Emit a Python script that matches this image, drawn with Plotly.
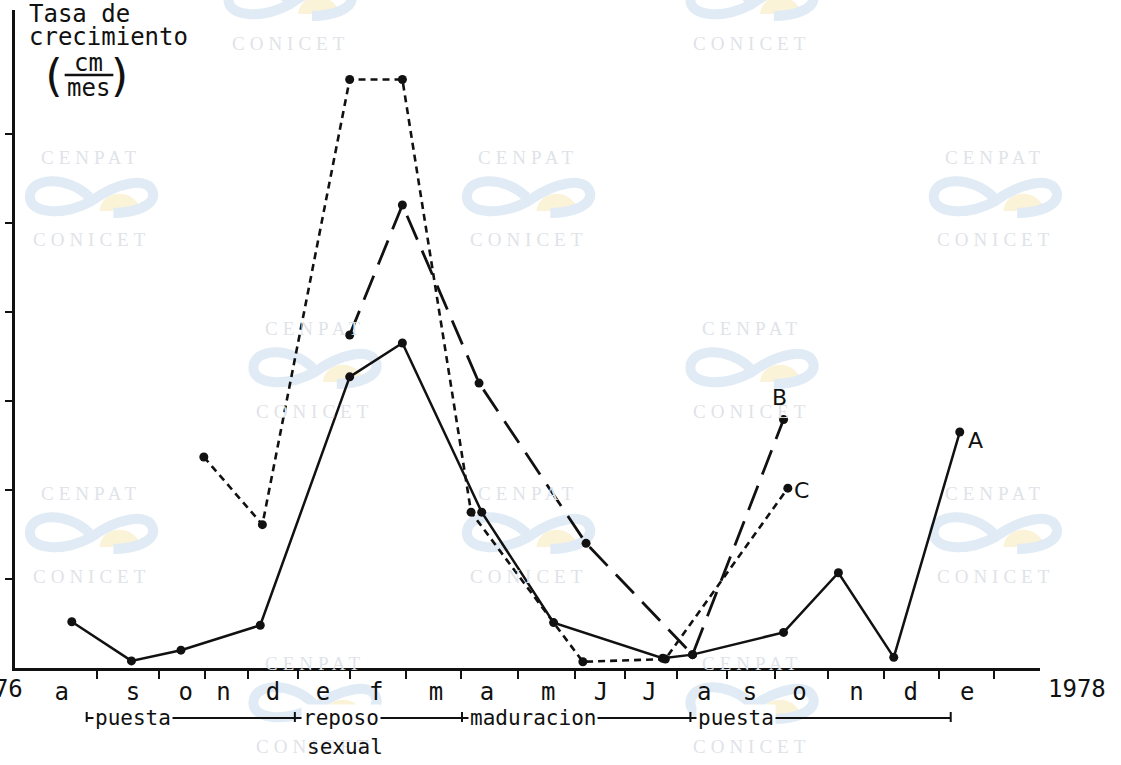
import plotly.graph_objects as go

# Months counted from August 1976 (a = 0); labels are hand-placed along the axis
month_labels = ["a", "s", "o", "n", "d", "e", "f", "m", "a", "m", "J", "J",
                "a", "s", "o", "n", "d", "e"]
month_pos = [0.0, 1.34, 2.33, 3.04, 3.97, 4.91, 5.91, 7.03, 7.99, 9.14, 10.13,
             11.04, 12.07, 12.93, 13.86, 14.93, 15.95, 17.01]

# Growth rate series (sampling date in months, rate in axis units)
a_x = [0.19, 1.31, 2.24, 3.73, 5.41, 6.40, 7.89, 9.24, 11.29, 11.85, 13.56,
       14.59, 15.63, 16.87]
a_y = [0.52, 0.08, 0.20, 0.48, 3.27, 3.65, 1.75, 0.51, 0.11, 0.15, 0.40,
       1.07, 0.12, 2.65]
b_x = [5.41, 6.40, 7.84, 9.85, 11.85, 13.56]
b_y = [3.74, 5.20, 3.20, 1.40, 0.15, 2.79]
c_x = [2.67, 3.77, 5.41, 6.40, 7.69, 9.79, 11.34, 13.64]
c_y = [2.37, 1.61, 6.61, 6.61, 1.75, 0.07, 0.10, 2.02]

# Reproductive phases and their boundaries (months)
phase_names = ["puesta", "reposo", "maduracion", "puesta"]
phase_bounds = [0.47, 4.38, 7.52, 11.81, 16.70]

year_labels = ["1976", "1978"]

y_ticks = [1, 2, 3, 4, 5, 6]

# ---- geometry of the plotting area (pixels) ----
W, H = 1121, 765
L, R, T, B = 8, 1040, 10, 668
X_RANGE = [-0.877, 18.377]
Y_RANGE = [0, 7.39]


def px(xp):
    return (xp - L) / (R - L)


def py(yp):
    return (B - yp) / (B - T)


MONO = "DejaVu Sans Mono"
INK = "#111111"

fig = go.Figure()

fig.add_trace(go.Scatter(
    x=a_x, y=a_y, mode="lines+markers", name="A",
    line=dict(color=INK, width=2.5),
    marker=dict(color=INK, size=9), cliponaxis=False))
fig.add_trace(go.Scatter(
    x=b_x, y=b_y, mode="lines+markers", name="B",
    line=dict(color=INK, width=2.8, dash="26px,12px"),
    marker=dict(color=INK, size=9), cliponaxis=False))
fig.add_trace(go.Scatter(
    x=c_x, y=c_y, mode="lines+markers", name="C",
    line=dict(color=INK, width=2.6, dash="7px,5px"),
    marker=dict(color=INK, size=9), cliponaxis=False))

shapes = []
annotations = []

# ---- faint background seals (twisted ribbon with a rising sun) ----
WM_TEXT = "#dfe3e8"
WM_BLUE = "#e0ebf5"
WM_SUN = "#fbf3d8"


def path_str(cx, cy, segments):
    s = ""
    for cmd, coords in segments:
        s += cmd + " ".join(f"{px(cx + dx):.5f},{py(cy + dy):.5f}"
                            for dx, dy in coords) + " "
    return s.strip()


ribbon = [
    ("M", [(-2, 0)]),
    ("C", [(-25, -22), (-62, -20), (-62, 0)]),
    ("C", [(-62, 16), (-30, 20), (0, 4)]),
    ("C", [(25, -14), (58, -22), (62, -4)]),
    ("C", [(64, 10), (40, 16), (22, 16)]),
]
sun = [
    ("M", [(8, 14)]),
    ("C", [(10, -8), (44, -10), (50, 14)]),
    ("Z", []),
]

seal_centers = [(285, 0), (750, 0),
                (85, 197), (525, 197), (995, 197),
                (310, 368), (750, 368),
                (85, 533), (525, 533), (995, 533),
                (310, 703), (750, 703)]

for cx, cy in seal_centers:
    shapes.append(dict(type="path", xref="paper", yref="paper",
                       path=path_str(cx, cy, sun), fillcolor=WM_SUN,
                       line=dict(width=0), layer="below"))
    shapes.append(dict(type="path", xref="paper", yref="paper",
                       path=path_str(cx, cy, ribbon),
                       line=dict(color=WM_BLUE, width=10), layer="below"))
    for dy, word in [(-40, "CENPAT"), (43, "CONICET")]:
        if cy + dy < 0:
            continue
        annotations.append(dict(
            xref="paper", yref="paper", x=px(cx), y=py(cy + dy),
            text=f'<span style="letter-spacing:5px">{word}</span>',
            showarrow=False, xanchor="center", yanchor="middle",
            font=dict(family="Liberation Serif", size=19, color=WM_TEXT)))

# ---- axis title ----
title_font = dict(family=MONO, size=24, color=INK)
annotations.append(dict(xref="paper", yref="paper", x=px(20), y=py(14),
                        text="Tasa de", showarrow=False, xanchor="left",
                        yanchor="middle", font=title_font))
annotations.append(dict(xref="paper", yref="paper", x=px(20), y=py(37),
                        text="crecimiento", showarrow=False, xanchor="left",
                        yanchor="middle", font=title_font))
annotations.append(dict(xref="paper", yref="paper", x=px(82), y=py(63),
                        text="cm", showarrow=False, xanchor="center",
                        yanchor="middle", font=title_font))
annotations.append(dict(xref="paper", yref="paper", x=px(82), y=py(88),
                        text="mes", showarrow=False, xanchor="center",
                        yanchor="middle", font=title_font))
annotations.append(dict(xref="paper", yref="paper", x=px(47), y=py(76),
                        text="(", showarrow=False, xanchor="center",
                        yanchor="middle",
                        font=dict(family=MONO, size=44, color=INK)))
annotations.append(dict(xref="paper", yref="paper", x=px(114), y=py(76),
                        text=")", showarrow=False, xanchor="center",
                        yanchor="middle",
                        font=dict(family=MONO, size=44, color=INK)))
shapes.append(dict(type="line", xref="paper", yref="paper",
                   x0=px(58), x1=px(107), y0=py(75), y1=py(75),
                   line=dict(color=INK, width=2.5)))

# ---- year labels at both ends of the time axis ----
annotations.append(dict(xref="paper", yref="paper", x=px(18), y=py(689),
                        text=year_labels[0], showarrow=False, xanchor="right",
                        yanchor="middle",
                        font=dict(family=MONO, size=24, color=INK)))
annotations.append(dict(xref="paper", yref="paper", x=px(1046), y=py(689),
                        text=year_labels[1], showarrow=False, xanchor="left",
                        yanchor="middle",
                        font=dict(family=MONO, size=24, color=INK)))

# ---- series labels ----
lab_font = dict(family="DejaVu Sans", size=22, color=INK)
annotations.append(dict(x=a_x[-1], y=a_y[-1], xref="x", yref="y", text="A",
                        showarrow=False, xanchor="left", yanchor="middle",
                        xshift=6, yshift=-8, font=lab_font))
annotations.append(dict(x=b_x[-1], y=b_y[-1], xref="x", yref="y", text="B",
                        showarrow=False, xanchor="center", yanchor="bottom",
                        xshift=-4, yshift=8, font=lab_font))
annotations.append(dict(x=c_x[-1], y=c_y[-1], xref="x", yref="y", text="C",
                        showarrow=False, xanchor="left", yanchor="middle",
                        xshift=4, yshift=-2, font=lab_font))

# ---- reproductive phase bar below the axis ----
bar_y = py(718)
for i, name in enumerate(phase_names):
    x0, x1 = phase_bounds[i], phase_bounds[i + 1]
    shapes.append(dict(type="line", xref="x", yref="paper", x0=x0, x1=x1,
                       y0=bar_y, y1=bar_y, line=dict(color=INK, width=2)))
    annotations.append(dict(xref="x", yref="paper", x=x0, y=bar_y,
                            text=name, showarrow=False, xanchor="left",
                            yanchor="middle", xshift=6, bgcolor="white",
                            borderpad=1,
                            font=dict(family=MONO, size=21, color=INK)))
for xb in phase_bounds:
    shapes.append(dict(type="line", xref="x", yref="paper", x0=xb, x1=xb,
                       y0=py(712), y1=py(722), line=dict(color=INK, width=2)))
annotations.append(dict(xref="x", yref="paper", x=phase_bounds[1], y=py(747),
                        text="sexual", showarrow=False, xanchor="left",
                        yanchor="middle", xshift=10,
                        font=dict(family=MONO, size=21, color=INK)))

minor_pos = [(month_pos[i] + month_pos[i + 1]) / 2 for i in range(len(month_pos) - 1)]
minor_pos.append(month_pos[-1] + 0.5)

fig.update_layout(
    width=W, height=H,
    margin=dict(l=L, r=W - R, t=T, b=H - B, pad=0),
    paper_bgcolor="white", plot_bgcolor="white",
    showlegend=False,
    shapes=shapes, annotations=annotations,
    xaxis=dict(range=X_RANGE, showgrid=False, zeroline=False,
               showline=True, linecolor=INK, linewidth=2.5,
               tickmode="array", tickvals=month_pos, ticktext=month_labels,
               ticks="", tickfont=dict(family=MONO, size=24, color=INK),
               minor=dict(tickmode="array", tickvals=minor_pos,
                          ticks="outside", ticklen=8, tickwidth=2,
                          tickcolor=INK, showgrid=False)),
    yaxis=dict(range=Y_RANGE, showgrid=False, zeroline=False,
               showline=True, linecolor=INK, linewidth=2.5,
               tickmode="array", tickvals=y_ticks, showticklabels=False,
               ticks="outside", ticklen=7, tickwidth=2, tickcolor=INK),
)

fig.write_html("out.html")
